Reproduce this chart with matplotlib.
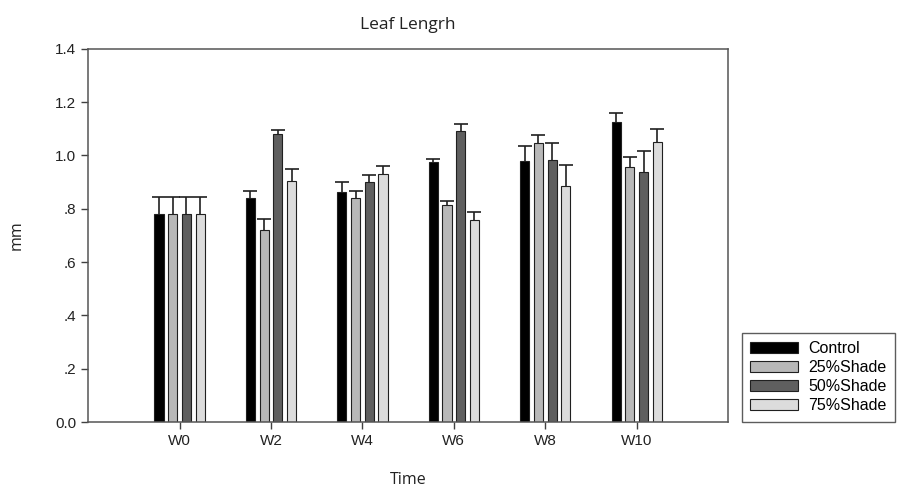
import matplotlib.pyplot as plt
import numpy as np

weeks = ['W0', 'W2', 'W4', 'W6', 'W8', 'W10']
groups = ['Control', '25%Shade', '50%Shade', '75%Shade']

control = [0.78, 0.842, 0.862, 0.975, 0.981, 1.124]
shade25 = [0.78, 0.722, 0.841, 0.813, 1.047, 0.958]
shade50 = [0.78, 1.080, 0.900, 1.090, 0.982, 0.937]
shade75 = [0.78, 0.905, 0.932, 0.757, 0.886, 1.050]

control_se = [0.066, 0.023, 0.039, 0.012, 0.054, 0.037]
shade25_se = [0.066, 0.041, 0.025, 0.017, 0.030, 0.036]
shade50_se = [0.066, 0.016, 0.026, 0.027, 0.063, 0.081]
shade75_se = [0.066, 0.045, 0.028, 0.030, 0.080, 0.049]

colors = ['#000000', '#b8b8b8', '#5f5f5f', '#dcdcdc']

means = [control, shade25, shade50, shade75]
errs = [control_se, shade25_se, shade50_se, shade75_se]

plt.rcParams['font.family'] = ['Liberation Sans', 'DejaVu Sans']

fig = plt.figure(figsize=(9, 4.88), dpi=100)
ax = fig.add_axes([0.098, 0.135, 0.711, 0.765])

x = np.arange(len(weeks))
pitch = 0.15
width = 0.10
for i, (m, e, c, g) in enumerate(zip(means, errs, colors, groups)):
    pos = x + (i - 1.5) * pitch
    ax.bar(pos, m, width, color=c, edgecolor='#202020', linewidth=0.8,
           label=g, zorder=2)
    _, caps, _ = ax.errorbar(pos, m, yerr=[np.zeros(len(e)), e], fmt='none',
                             ecolor='#202020', elinewidth=1.2, capsize=4.7,
                             capthick=1.2, zorder=1)
    # only the upper whisker is shown
    caps[0].set_visible(False)

ax.set_xlim(-1, 6)
ax.set_ylim(0, 1.4)
ax.set_xticks(x)
ax.set_xticklabels(weeks)
yt = np.arange(0, 1.41, 0.2)
ax.set_yticks(yt)
ax.set_yticklabels(['0.0', '.2', '.4', '.6', '.8', '1.0', '1.2', '1.4'])
ax.tick_params(direction='out', length=5, width=1, colors='#404040',
               labelcolor='#222222', labelsize=11)
for s in ax.spines.values():
    s.set_color('#555555')
    s.set_linewidth(1.1)

ax.set_title('Leaf Lengrh', fontsize=12.5, family=['Open Sans', 'DejaVu Sans'],
             pad=14, color='#222222')
ax.set_xlabel('Time', fontsize=11.5, family=['Open Sans', 'DejaVu Sans'],
              labelpad=17, color='#222222')
ax.set_ylabel('mm', fontsize=11.5, family=['Open Sans', 'DejaVu Sans'],
              labelpad=22, color='#222222')

leg = fig.legend(loc='lower left', bbox_to_anchor=(0.824, 0.135),
                 fontsize=11.5, frameon=True, fancybox=False,
                 handlelength=3.0, handleheight=0.7, labelspacing=0.25,
                 borderpad=0.55, handletextpad=0.6, borderaxespad=0)
leg.get_frame().set_edgecolor('#333333')
leg.get_frame().set_linewidth(1.0)

fig.savefig('out.png', dpi=100)
